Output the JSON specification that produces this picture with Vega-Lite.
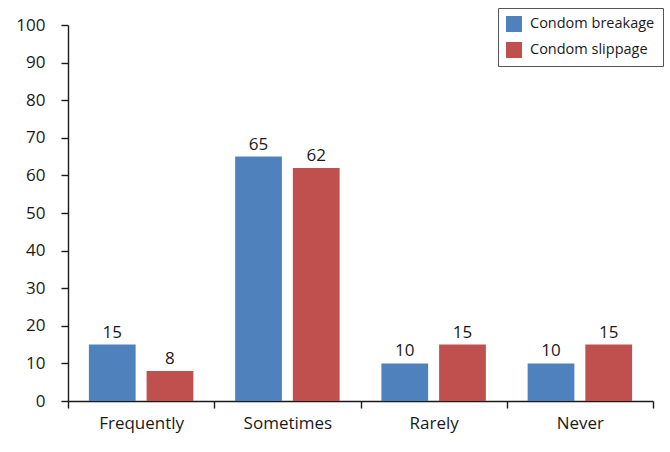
{
  "$schema": "https://vega.github.io/schema/vega-lite/v6.json",
  "width": 585,
  "height": 376,
  "autosize": "none",
  "padding": {"left": 68, "top": 25, "right": 17, "bottom": 51},
  "background": "white",
  "config": {
    "view": {"stroke": null},
    "font": "Open Sans",
    "axis": {"labelFont": "Open Sans", "labelFontSize": 17, "labelColor": "#1a1a1a", "domainColor": "#1a1a1a", "tickColor": "#1a1a1a", "domainWidth": 1.4, "tickWidth": 1.4, "grid": false, "title": null}
  },
  "data": {
    "values": [
      {"category": "Frequently", "series": "Condom breakage", "value": 15},
      {"category": "Frequently", "series": "Condom slippage", "value": 8},
      {"category": "Sometimes", "series": "Condom breakage", "value": 65},
      {"category": "Sometimes", "series": "Condom slippage", "value": 62},
      {"category": "Rarely", "series": "Condom breakage", "value": 10},
      {"category": "Rarely", "series": "Condom slippage", "value": 15},
      {"category": "Never", "series": "Condom breakage", "value": 10},
      {"category": "Never", "series": "Condom slippage", "value": 15}
    ]
  },
  "encoding": {
    "x": {
      "field": "category", "type": "nominal", "sort": null,
      "scale": {"paddingInner": 0, "paddingOuter": 0},
      "axis": {"labelAngle": 0, "tickBand": "extent", "tickSize": 7, "labelPadding": 7}
    },
    "xOffset": {
      "field": "series", "type": "nominal",
      "scale": {"paddingInner": 0.19, "paddingOuter": 0.362}
    },
    "y": {
      "field": "value", "type": "quantitative",
      "scale": {"domain": [0, 100], "nice": false},
      "axis": {"values": [0,10,20,30,40,50,60,70,80,90,100], "tickSize": 7, "labelPadding": 16}
    }
  },
  "layer": [
    {
      "mark": {"type": "bar"},
      "encoding": {
        "color": {
          "field": "series", "type": "nominal",
          "scale": {"domain": ["Condom breakage", "Condom slippage"], "range": ["#4F81BD", "#C0504D"]},
          "legend": {
            "title": null, "orient": "none", "legendX": 430, "legendY": -17,
            "symbolType": "square", "symbolSize": 256, "symbolStrokeWidth": 0,
            "labelFont": "Open Sans", "labelFontSize": 14.5, "labelColor": "#1a1a1a",
            "strokeColor": "#555555", "fillColor": "white", "padding": 8, "rowPadding": 10,
            "labelOffset": 8
          }
        }
      }
    },
    {
      "mark": {"type": "text", "baseline": "bottom", "dy": -3, "fontSize": 17, "font": "Open Sans", "color": "#1a1a1a"},
      "encoding": {"text": {"field": "value", "type": "quantitative"}}
    }
  ]
}
